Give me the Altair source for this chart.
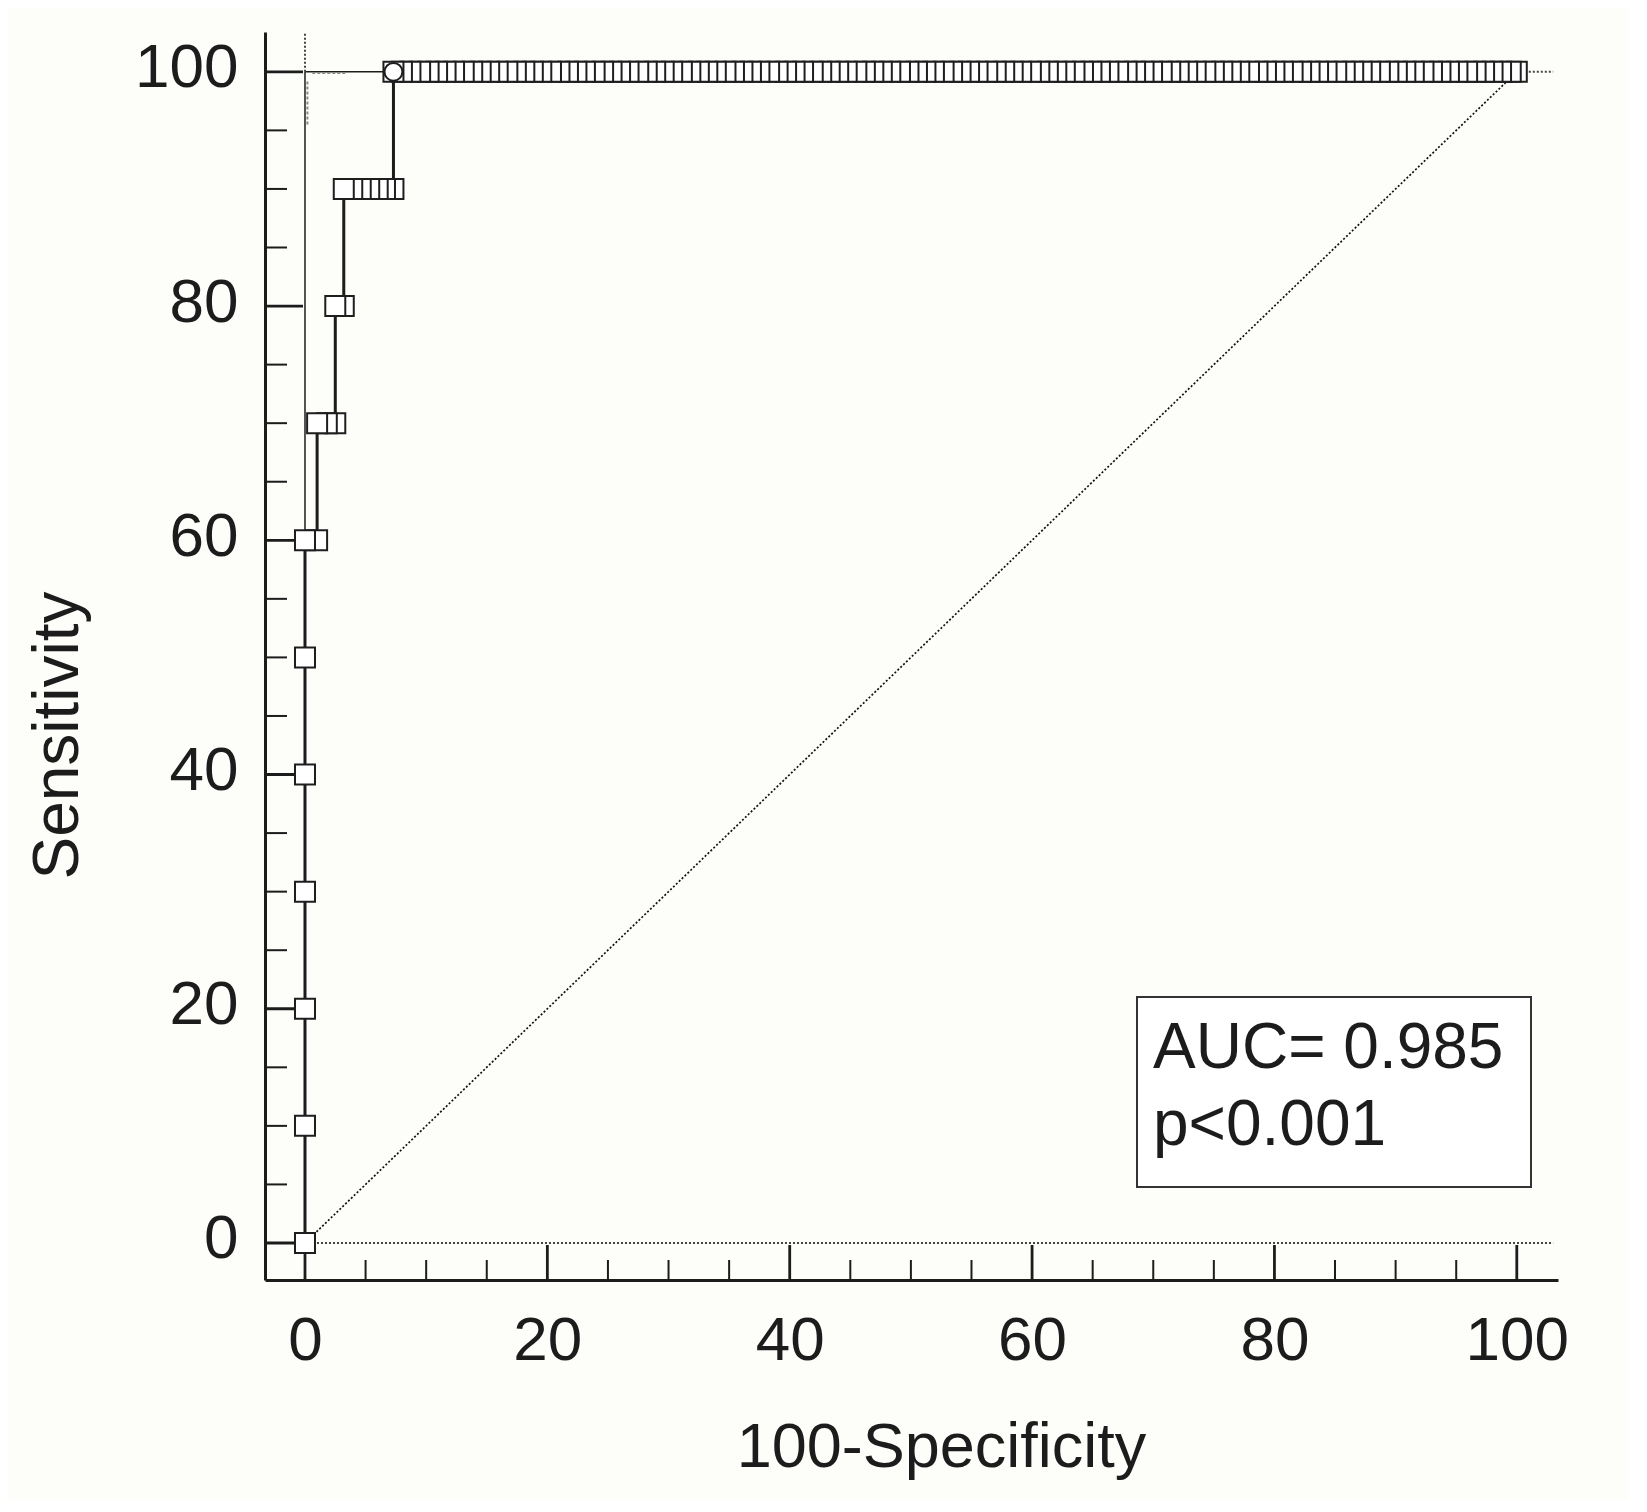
import altair as alt
import pandas as pd

FONT = "Liberation Sans"
INK = "#1c1c1c"

# ROC criterion points (100-Specificity, Sensitivity)
steps_fpr = [0, 0, 0, 0, 0, 0, 0, 1.0, 1.0, 1.8, 2.5, 2.5, 3.2, 3.2, 3.9, 4.6, 5.3, 6.0, 6.6, 7.3]
steps_sens = [0, 10, 20, 30, 40, 50, 60, 60, 70, 70, 70, 80, 80, 90, 90, 90, 90, 90, 90, 90]
top_row_fpr = [
    7.3, 8.0, 8.7, 9.5, 10.2, 10.9, 11.6, 12.3, 13.1, 13.8, 14.5, 15.2, 15.9, 16.7,
    17.4, 18.1, 18.8, 19.5, 20.3, 21.0, 21.7, 22.4, 23.1, 23.9, 24.6, 25.3, 26.0, 26.7,
    27.5, 28.2, 28.9, 29.6, 30.3, 31.1, 31.8, 32.5, 33.2, 33.9, 34.7, 35.4, 36.1, 36.8,
    37.5, 38.3, 39.0, 39.7, 40.4, 41.1, 41.9, 42.6, 43.3, 44.0, 44.7, 45.5, 46.2, 46.9,
    47.6, 48.3, 49.1, 49.8, 50.5, 51.2, 51.9, 52.7, 53.4, 54.1, 54.8, 55.5, 56.3, 57.0,
    57.7, 58.4, 59.1, 59.9, 60.6, 61.3, 62.0, 62.7, 63.5, 64.2, 64.9, 65.6, 66.3, 67.1,
    67.8, 68.5, 69.2, 69.9, 70.7, 71.4, 72.1, 72.8, 73.5, 74.3, 75.0, 75.7, 76.4, 77.1,
    77.9, 78.6, 79.3, 80.0, 80.7, 81.5, 82.2, 82.9, 83.6, 84.3, 85.1, 85.8, 86.5, 87.2,
    87.9, 88.7, 89.4, 90.1, 90.8, 91.5, 92.3, 93.0, 93.7, 94.4, 95.1, 95.9, 96.6, 97.3,
    98.0, 98.7, 99.5, 100.0,
]
top_row_sens = [100] * len(top_row_fpr)
optimal_fpr = [7.3]
optimal_sens = [100]

# reference lines (data coordinates)
solid_refs = {"x": [0, 0], "y": [0, 100], "x2": [0, 100], "y2": [100, 100]}
dotted_refs = {"x": [0, 0, 100], "y": [0, 100, 100], "x2": [103, 0, 103], "y2": [0, 103.4, 100]}
diag_ref = {"x": [0], "y": [0], "x2": [100], "y2": [100]}
ci_bits = {"x": [0.6, 0.2], "y": [99.9, 95.5], "x2": [3.5, 0.2], "y2": [99.9, 99.3]}

x_major = [0, 20, 40, 60, 80, 100]
x_minor = [5, 10, 15, 25, 30, 35, 45, 50, 55, 65, 70, 75, 85, 90, 95]
y_major = [0, 20, 40, 60, 80, 100]
y_minor = [5, 10, 15, 25, 30, 35, 45, 50, 55, 65, 70, 75, 85, 90, 95]

legend_lines = ["AUC= 0.985", "p<0.001"]

W, H = 1293, 1248
xs = alt.Scale(domain=[-3.3, 103.4], nice=False, zero=False)
ys = alt.Scale(domain=[-3.16, 103.4], nice=False, zero=False)

roc = pd.DataFrame({
    "x": steps_fpr + top_row_fpr,
    "y": steps_sens + top_row_sens,
})
roc["order"] = range(len(roc))
# markers further left are drawn on top of their right neighbours
roc_markers = roc.iloc[::-1].reset_index(drop=True)

x_axis = alt.Axis(
    values=x_major, ticks=False, tickSize=0, grid=False,
    domainColor=INK, domainWidth=3,
    labelFont=FONT, labelFontSize=62, labelColor=INK, labelPadding=30,
    labelFlush=False, labelOverlap=False,
    title="100-Specificity", titleFont=FONT, titleFontSize=63, titleFontWeight="normal",
    titleColor=INK, titleX=676, titleY=186, titleBaseline="alphabetic", titleAlign="center",
)
y_axis = alt.Axis(
    values=y_major, ticks=False, tickSize=0, grid=False,
    domainColor=INK, domainWidth=3,
    labelFont=FONT, labelFontSize=62, labelColor=INK, labelPadding=27, labelOffset=-4,
    labelOverlap=False, labelFlush=False,
    title="Sensitivity", titleFont=FONT, titleFontSize=64, titleFontWeight="normal",
    titleColor=INK, titleX=-188, titleY=703, titleAngle=270,
    titleBaseline="alphabetic", titleAlign="center",
)

X = alt.X("x:Q", scale=xs)
Y = alt.Y("y:Q", scale=ys)

line = alt.Chart(roc).mark_line(color=INK, strokeWidth=3).encode(
    x=alt.X("x:Q", scale=xs, axis=x_axis),
    y=alt.Y("y:Q", scale=ys, axis=y_axis),
    order="order:Q",
)


def seg_layer(d, **style):
    return alt.Chart(pd.DataFrame(d)).mark_rule(**style).encode(
        x=X, y=Y, x2="x2:Q", y2="y2:Q",
    )


solid = seg_layer(solid_refs, color=INK, strokeWidth=1.5)
dotted = seg_layer(dotted_refs, color="#444444", strokeWidth=2, strokeDash=[2, 2])
diag = seg_layer(diag_ref, color="#111111", strokeWidth=1.7, strokeDash=[2, 2])
ci = seg_layer(ci_bits, color="#8a8a8a", strokeWidth=2, strokeDash=[3, 2])

ymaj = alt.Chart(pd.DataFrame({"y": y_major})).mark_rule(color=INK, strokeWidth=2.8).encode(
    y=Y, x=alt.value(0), x2=alt.value(38))
ymin = alt.Chart(pd.DataFrame({"y": y_minor})).mark_rule(color=INK, strokeWidth=2).encode(
    y=Y, x=alt.value(0), x2=alt.value(22))
xmaj = alt.Chart(pd.DataFrame({"x": x_major})).mark_rule(color=INK, strokeWidth=2.8).encode(
    x=X, y=alt.value(H), y2=alt.value(H - 35))
xmin = alt.Chart(pd.DataFrame({"x": x_minor})).mark_rule(color=INK, strokeWidth=2).encode(
    x=X, y=alt.value(H), y2=alt.value(H - 20))

squares = alt.Chart(roc_markers).mark_point(
    shape="square", filled=True, fill="white", stroke="#1e1e1e", strokeWidth=2,
    size=400, opacity=1,
).encode(x=X, y=Y)
circle = alt.Chart(pd.DataFrame({"x": optimal_fpr, "y": optimal_sens})).mark_point(
    shape="circle", filled=True, fill="white", stroke="#1e1e1e", strokeWidth=2,
    size=320, opacity=1,
).encode(x=X, y=Y)

box = alt.Chart(pd.DataFrame({"k": [0]})).mark_rect(
    fill="white", stroke="#333333", strokeWidth=2,
).encode(x=alt.value(872), x2=alt.value(1266), y=alt.value(965), y2=alt.value(1155))

legend1 = alt.Chart(pd.DataFrame({"t": [legend_lines[0]]})).mark_text(
    font=FONT, fontSize=64, color=INK, align="left", baseline="alphabetic",
).encode(text="t:N", x=alt.value(888), y=alt.value(1036))
legend2 = alt.Chart(pd.DataFrame({"t": [legend_lines[1]]})).mark_text(
    font=FONT, fontSize=64, color=INK, align="left", baseline="alphabetic",
).encode(text="t:N", x=alt.value(888), y=alt.value(1113))

chart = alt.layer(
    line, solid, dotted, diag, ci, ymin, ymaj, xmin, xmaj, squares, circle, box, legend1, legend2
).properties(
    width=W, height=H,
    autosize=alt.AutoSizeParams(type="none"),
    padding={"left": 257, "top": 24, "right": 70, "bottom": 220},
    background="#fdfdfa",
).configure_view(stroke=None)

chart.save("out.html", embed_options={"renderer": "svg", "actions": False})
